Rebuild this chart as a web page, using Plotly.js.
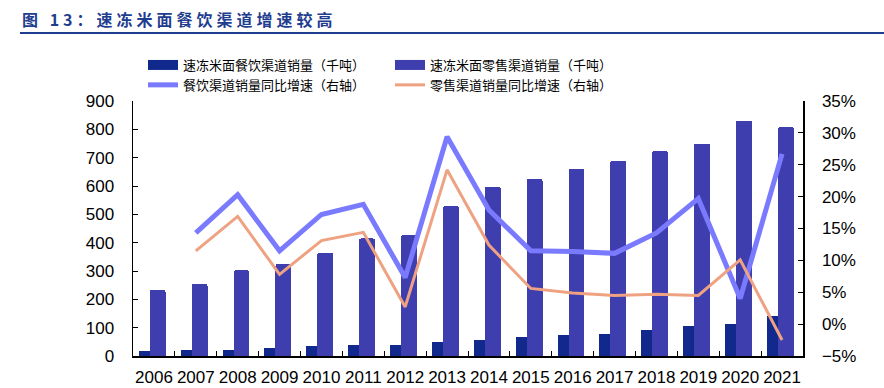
<!DOCTYPE html>
<html>
<head>
<meta charset="utf-8">
<script src="https://cdn.plot.ly/plotly-3.0.1.min.js"></script>
<style>
html,body{margin:0;padding:0;background:#fff;}
#chart{width:884px;height:388px;}
</style>
</head>
<body>
<div id="chart"></div>
<script>
const years = ['2006','2007','2008','2009','2010','2011','2012','2013','2014','2015','2016','2017','2018','2019','2020','2021'];
const foodServiceVolume = [16,22,22,28,34,40,40,51,56,68,73,79,91,107,112,141];
const retailVolume = [233,255,302,324,364,415,426,529,598,626,660,689,723,750,831,808];
const foodServiceGrowth = [null,14.3,20.3,11.5,17.2,18.8,7.3,29.4,17.9,11.5,11.4,11.1,14.3,19.7,4.0,26.7];
const retailGrowth = [null,11.5,16.9,7.8,13.1,14.4,2.7,24.2,12.4,5.6,4.9,4.5,4.7,4.5,10.1,-2.5];

const names = ['速冻米面餐饮渠道销量（千吨）','速冻米面零售渠道销量（千吨）','餐饮渠道销量同比增速（右轴）','零售渠道销量同比增速（右轴）'];
const cDark = '#11298d', cPurple = '#3f3eae', cBlue = '#7a7aff', cOrange = '#efa282';

const traces = [
  {type:'bar', x:years, y:foodServiceVolume, name:names[0], marker:{color:cDark}, offset:-0.36, width:0.38, showlegend:false, yaxis:'y'},
  {type:'bar', x:years, y:retailVolume, name:names[1], marker:{color:cPurple, cornerradius:2}, offset:-0.1, width:0.38, showlegend:false, yaxis:'y'},
  {type:'scatter', mode:'lines', x:years, y:foodServiceGrowth, name:names[2], line:{color:cBlue, width:5}, yaxis:'y2', showlegend:false, connectgaps:false},
  {type:'scatter', mode:'lines', x:years, y:retailGrowth, name:names[3], line:{color:cOrange, width:3}, yaxis:'y2', showlegend:false, connectgaps:false},
  // legend entries
  {type:'scatter', mode:'lines', x:[null], y:[null], name:names[0], line:{color:cDark, width:10}, showlegend:true},
  {type:'scatter', mode:'lines', x:[null], y:[null], name:names[1], line:{color:cPurple, width:10}, showlegend:true},
  {type:'scatter', mode:'lines', x:[null], y:[null], name:names[2], line:{color:cBlue, width:5}, showlegend:true},
  {type:'scatter', mode:'lines', x:[null], y:[null], name:names[3], line:{color:cOrange, width:3}, showlegend:true}
];

const tickFont = {family:'"Liberation Sans", Arial, sans-serif', size:17, color:'#000'};

const layout = {
  width:884, height:388,
  margin:{l:133, r:81, t:101, b:32},
  paper_bgcolor:'#fff', plot_bgcolor:'#fff',
  title:{
    text:'<b>图 13：速冻米面餐饮渠道增速较高</b>',
    font:{family:'"Noto Sans CJK SC", sans-serif', size:16, color:'#1f3d8f'},
    xref:'container', x:22/884, xanchor:'left',
    yref:'container', y:1-20/388, yanchor:'middle'
  },
  bargap:0, barmode:'overlay',
  xaxis:{
    type:'category', range:[-0.5,15.5],
    showline:true, linecolor:'#000', linewidth:1.5,
    ticks:'inside', ticklen:5, tickcolor:'#000', tickson:'boundaries',
    tickfont:tickFont, ticklabelstandoff:5, tickangle:0,
    showgrid:false, zeroline:false, fixedrange:true
  },
  yaxis:{
    range:[0,900], dtick:100, tick0:0,
    showline:true, linecolor:'#000', linewidth:1.5,
    ticks:'inside', ticklen:5, tickcolor:'#000',
    tickfont:tickFont, ticklabelstandoff:14,
    showgrid:false, zeroline:false
  },
  yaxis2:{
    overlaying:'y', side:'right',
    range:[-5,35], dtick:5, tick0:-5, ticksuffix:'%',
    showline:true, linecolor:'#000', linewidth:1.5,
    ticks:'inside', ticklen:5, tickcolor:'#000',
    tickfont:tickFont, ticklabelstandoff:14,
    showgrid:false, zeroline:false
  },
  legend:{
    orientation:'h', xref:'container', yref:'container',
    x:143/884, xanchor:'left', y:1-50/388, yanchor:'top',
    entrywidth:202, entrywidthmode:'pixels',
    font:{family:'"Noto Sans CJK SC", sans-serif', size:13, color:'#000'},
    itemwidth:30, tracegroupgap:0, bgcolor:'rgba(0,0,0,0)'
  },
  shapes:[
    {type:'line', xref:'paper', yref:'paper', x0:(20-133)/670, x1:(884-133)/670, y0:(356-33)/255, y1:(356-33)/255, line:{color:'#1f3d8f', width:2}}
  ],
  showlegend:true
};

Plotly.newPlot('chart', traces, layout, {displayModeBar:false, staticPlot:true}).then(function(){
  const t = document.querySelector('.gtitle');
  if (t) t.style.letterSpacing = '4px';
});
</script>
</body>
</html>
